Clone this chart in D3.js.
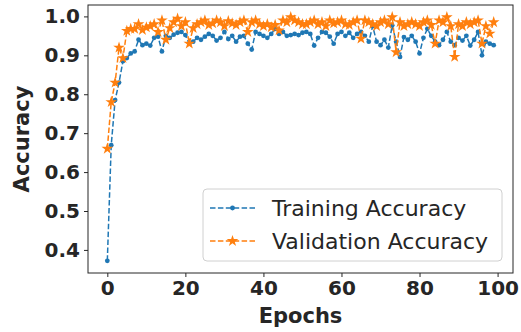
<!DOCTYPE html>
<html>
<head>
<meta charset="utf-8">
<script src="https://cdn.jsdelivr.net/npm/d3@7"></script>
<style>
  body { margin: 0; background: #fff; }
  text { font-family: "DejaVu Sans", sans-serif; fill: #262626; }
</style>
</head>
<body>
<div id="chart"></div>
<script>
// accuracy per epoch
const trainAcc = [
  0.372, 0.669, 0.785, 0.83, 0.885, 0.893, 0.905, 0.91, 0.94, 0.926,
  0.93, 0.925, 0.945, 0.948, 0.91, 0.95, 0.945, 0.953, 0.958, 0.96,
  0.952, 0.93, 0.935, 0.945, 0.94, 0.948, 0.955, 0.95, 0.938, 0.945,
  0.96, 0.942, 0.95, 0.935, 0.948, 0.95, 0.93, 0.915, 0.96, 0.955,
  0.95, 0.945, 0.955, 0.968, 0.955, 0.96, 0.95, 0.952, 0.955, 0.952,
  0.958, 0.96, 0.955, 0.925, 0.945, 0.96, 0.958, 0.948, 0.93, 0.955,
  0.96, 0.95, 0.958, 0.945, 0.955, 0.96, 0.95, 0.935, 0.975, 0.935,
  0.926, 0.94, 0.92, 0.977, 0.935, 0.896, 0.947, 0.94, 0.95, 0.935,
  0.905, 0.945, 0.968, 0.95, 0.935, 0.926, 0.94, 0.96, 0.935, 0.926,
  0.945, 0.938, 0.95, 0.925, 0.94, 0.96, 0.9, 0.935, 0.93, 0.926
];
const valAcc = [
  0.66, 0.78, 0.83, 0.92, 0.893, 0.963, 0.968, 0.968, 0.98, 0.965,
  0.972, 0.975, 0.98, 0.96, 0.99, 0.94, 0.97, 0.985, 0.994, 0.975,
  0.985, 0.93, 0.97, 0.98, 0.985, 0.99, 0.978, 0.982, 0.99, 0.985,
  0.975, 0.988, 0.982, 0.978, 0.985, 0.99, 0.96, 0.985, 0.99, 0.98,
  0.975, 0.98, 0.972, 0.978, 0.964, 0.99, 0.985, 0.998, 0.99, 0.985,
  0.98, 0.98, 0.985, 0.99, 0.98, 0.985, 0.975, 0.99, 0.982, 0.985,
  0.99, 0.98, 0.978, 0.985, 0.99, 0.943, 0.99, 0.985, 0.98, 0.975,
  0.985, 0.99, 0.98, 0.998, 0.908, 0.985, 0.975, 0.98, 0.985, 0.98,
  0.975, 0.985, 0.99, 0.978, 0.93, 0.99, 0.985, 0.998, 0.975, 0.896,
  0.98, 0.975, 0.985, 0.98, 0.985, 0.99, 0.93, 0.975, 0.956, 0.985
];
const xTicks = [0, 20, 40, 60, 80, 100];
const yTicks = [0.4, 0.5, 0.6, 0.7, 0.8, 0.9, 1.0];
const series = [
  { name: "Training Accuracy", values: trainAcc, color: "#1f77b4", marker: "dot" },
  { name: "Validation Accuracy", values: valAcc, color: "#ff7f0e", marker: "star" }
];

const W = 521, H = 332;
const margin = { top: 5, right: 8, bottom: 59, left: 88 };
const width = W - margin.left - margin.right;
const height = H - margin.top - margin.bottom;

const svg = d3.select("#chart").append("svg")
  .attr("width", W)
  .attr("height", H);
const g = svg.append("g")
  .attr("transform", "translate(" + margin.left + "," + margin.top + ")");

const n = trainAcc.length;
const xPad = (n - 1) * 0.05;
var x = d3.scaleLinear().domain([-xPad, n - 1 + xPad]).range([0, width]);
const lo = d3.min(series, s => d3.min(s.values)), hi = d3.max(series, s => d3.max(s.values));
const yPad = (hi - lo) * 0.05;
var y = d3.scaleLinear().domain([lo - yPad, hi + yPad]).range([height, 0]);

// axes
const xAxis = g.append("g")
  .attr("transform", "translate(0," + height + ")")
  .call(d3.axisBottom(x).tickValues(xTicks).tickSize(4).tickPadding(4).tickFormat(d3.format("d")));
const yAxis = g.append("g")
  .call(d3.axisLeft(y).tickValues(yTicks).tickSize(4).tickPadding(4).tickFormat(d3.format(".1f")));
[xAxis, yAxis].forEach(a => {
  a.select(".domain").remove();
  a.selectAll("line").attr("stroke", "#262626").attr("stroke-width", 1);
  a.selectAll("text").attr("font-family", "DejaVu Sans").attr("font-size", 20)
    .attr("font-weight", "bold").attr("fill", "#262626");
});

// frame
g.append("rect")
  .attr("width", width).attr("height", height)
  .attr("fill", "none").attr("stroke", "#262626").attr("stroke-width", 1);

const star = d3.symbol().type(d3.symbolStar).size(42);

series.forEach(s => {
  let line = d3.line()
    .x((d, i) => x(i))
    .y(d => y(d));
  g.append("path")
    .datum(s.values)
    .attr("fill", "none")
    .attr("stroke", s.color)
    .attr("stroke-width", 1.5)
    .attr("stroke-dasharray", "5.5,2.4")
    .attr("d", line);
  if (s.marker == "dot") {
    g.append("g").selectAll("circle")
      .data(s.values)
      .join("circle")
      .attr("cx", (d, i) => x(i))
      .attr("cy", d => y(d))
      .attr("r", 2.4)
      .attr("fill", s.color);
  } else {
    g.append("g").selectAll("path")
      .data(s.values)
      .join("path")
      .attr("d", star)
      .attr("transform", (d, i) => "translate(" + x(i) + "," + y(d) + ")")
      .attr("fill", s.color);
  }
});

// axis titles
svg.append("text")
  .attr("x", margin.left + width / 2).attr("y", 323)
  .attr("text-anchor", "middle")
  .attr("font-size", 21).attr("font-weight", "bold")
  .text("Epochs");
svg.append("text")
  .attr("transform", "translate(29," + (margin.top + height / 2) + ") rotate(-90)")
  .attr("text-anchor", "middle")
  .attr("font-size", 21).attr("font-weight", "bold")
  .text("Accuracy");

// legend
const legend = svg.append("g").attr("transform", "translate(203,189)");
legend.append("rect")
  .attr("width", 299).attr("height", 72).attr("rx", 4)
  .attr("fill", "#fff").attr("fill-opacity", 0.8)
  .attr("stroke", "#d0d0d0").attr("stroke-width", 1);
series.forEach((s, i) => {
  const cy = 19 + i * 33;
  const row = legend.append("g").attr("transform", "translate(0," + cy + ")");
  row.append("line")
    .attr("x1", 7).attr("x2", 52)
    .attr("stroke", s.color).attr("stroke-width", 1.5)
    .attr("stroke-dasharray", "5.5,2.4");
  if (s.marker == "dot") {
    row.append("circle").attr("cx", 29.5).attr("r", 2.4).attr("fill", s.color);
  } else {
    row.append("path").attr("d", star).attr("transform", "translate(29.5,0)").attr("fill", s.color);
  }
  row.append("text")
    .attr("x", 69).attr("dy", "0.35em")
    .attr("font-size", 22)
    .text(s.name);
});
</script>
</body>
</html>
